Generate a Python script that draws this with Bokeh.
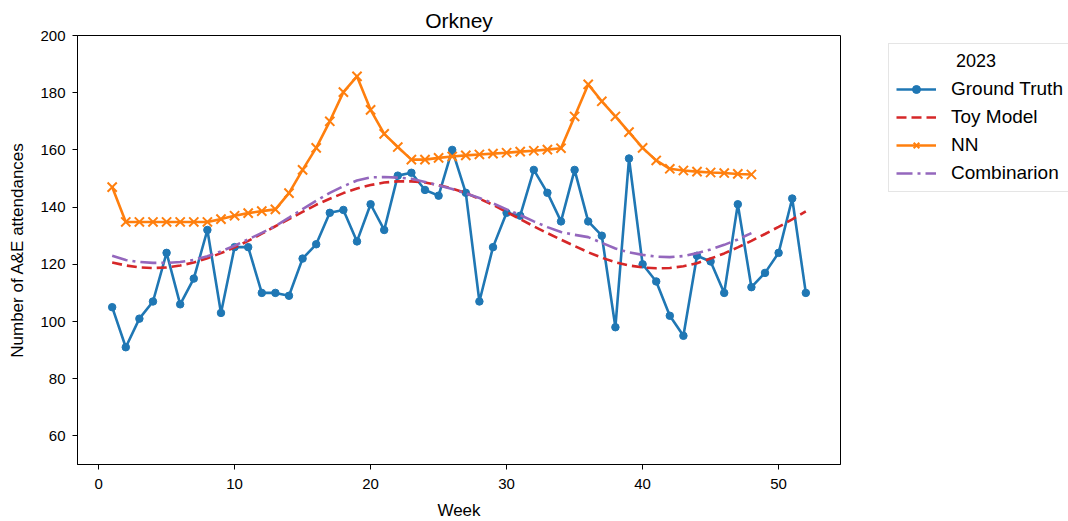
from bokeh.plotting import figure
from bokeh.models import Range1d, FixedTicker, Legend, LegendItem
from bokeh.embed import file_html
from bokeh.resources import INLINE

weeks = list(range(1, 53))
ground_truth = [105, 91, 101, 107, 124, 106, 115, 132, 103, 126, 126, 110, 110, 109, 122, 127,
                138, 139, 128, 141, 132, 151, 152, 146, 144, 160, 145, 107, 126, 138, 137, 153,
                145, 135, 153, 135, 130, 98, 157, 120, 114, 102, 95, 123, 121, 110, 141, 112,
                117, 124, 143, 110]
toy_model = [120.6, 119.6, 118.9, 118.7, 118.9, 119.6, 120.6, 122.1, 123.9, 125.9, 128.2, 130.7,
             133.3, 135.8, 138.3, 140.8, 142.9, 144.9, 146.5, 147.7, 148.6, 149.0, 149.0, 148.6,
             147.7, 146.5, 144.9, 142.9, 140.8, 138.3, 135.8, 133.3, 130.9, 128.6, 126.4, 124.2,
             122.3, 120.7, 119.6, 118.9, 118.6, 118.7, 119.3, 120.4, 122.0, 123.8, 125.9, 128.2,
             130.6, 133.1, 135.7, 138.5]
nn_weeks = list(range(1, 49))
nn = [147.0, 134.8, 134.8, 134.8, 134.8, 134.8, 134.8, 134.8, 135.8, 137.0, 137.9, 138.6,
      139.2, 144.9, 153.0, 160.7, 170.0, 180.2, 185.7, 174.0, 165.6, 161.0, 156.6, 156.6,
      157.2, 157.7, 158.1, 158.4, 158.7, 159.0, 159.4, 159.7, 160.1, 160.6, 171.7, 182.9,
      177.0, 171.7, 166.2, 160.7, 156.3, 153.4, 152.8, 152.4, 152.1, 151.9, 151.6, 151.4]
comb_weeks = list(range(1, 49))
combination = [123.0, 121.5, 120.8, 120.5, 120.5, 120.8, 121.5, 122.8, 124.5, 126.5, 128.7, 131.0,
               133.4, 136.3, 139.3, 142.2, 145.0, 147.3, 149.3, 150.4, 150.5, 150.3, 149.9, 148.8,
               147.6, 146.3, 144.8, 143.2, 141.3, 139.2, 137.2, 135.0, 133.0, 131.3, 130.3, 129.5,
               127.5, 125.5, 124.2, 123.3, 122.7, 122.5, 122.9, 123.9, 125.2, 126.8, 128.7, 130.9]

x_ticks = [0, 10, 20, 30, 40, 50]
y_ticks = [60, 80, 100, 120, 140, 160, 180, 200]

FONT = "Liberation Sans"
BLUE = "#1f77b4"
ORANGE = "#ff7f0e"
RED = "#d62728"
PURPLE = "#9467bd"

p = figure(frame_width=763, frame_height=429, output_backend="svg", toolbar_location=None,
           x_range=Range1d(-1.55, 54.55), y_range=Range1d(50, 200),
           min_border_left=77, min_border_right=228, min_border_top=35, min_border_bottom=57,
           title="Orkney", background_fill_color="white", border_fill_color="white")

p.title.align = "center"
p.title.text_font = FONT
p.title.text_font_size = "21px"
p.title.text_font_style = "normal"
p.title.text_color = "black"
p.title.standoff = 8

p.xgrid.visible = False
p.ygrid.visible = False
p.outline_line_color = "black"
p.outline_line_alpha = 1
p.outline_line_width = 1

for ax in (p.xaxis[0], p.yaxis[0]):
    ax.major_label_text_font = FONT
    ax.major_label_text_font_size = "15px"
    ax.major_label_text_color = "black"
    ax.axis_label_text_font = FONT
    ax.axis_label_text_font_size = "17px"
    ax.axis_label_text_font_style = "normal"
    ax.axis_label_text_color = "black"
    ax.major_tick_out = 5
    ax.major_tick_in = 0
    ax.minor_tick_out = 0
    ax.minor_tick_in = 0
    ax.axis_line_color = "black"
    ax.major_tick_line_color = "black"

p.xaxis.ticker = FixedTicker(ticks=x_ticks)
p.yaxis.ticker = FixedTicker(ticks=y_ticks)
p.xaxis.axis_label = "Week"
p.yaxis.axis_label = "Number of A&E attendances"
p.xaxis.major_label_standoff = 9
p.yaxis.major_label_standoff = 7
p.xaxis.axis_label_standoff = 9
p.yaxis.axis_label_standoff = 10

LW = 2.6
gt_line = p.line(weeks, ground_truth, line_color=BLUE, line_width=LW)
gt_pts = p.scatter(weeks, ground_truth, marker="circle", size=7.5, fill_color=BLUE, line_color=BLUE)
toy_line = p.line(weeks, toy_model, line_color=RED, line_width=LW, line_dash="10 5")
nn_line = p.line(nn_weeks, nn, line_color=ORANGE, line_width=LW)
nn_pts = p.scatter(nn_weeks, nn, marker="x", size=13, line_color=ORANGE, line_width=2)
comb_line = p.line(comb_weeks, combination, line_color=PURPLE, line_width=LW, line_dash="16 5 3 5")

legend = Legend(items=[
    LegendItem(label="Ground Truth", renderers=[gt_line, gt_pts]),
    LegendItem(label="Toy Model", renderers=[toy_line]),
    LegendItem(label="NN", renderers=[nn_line, nn_pts]),
    LegendItem(label="Combinarion", renderers=[comb_line]),
], location=(48, 272))
legend.title = "\u00a0" * 12 + "2023"
legend.title_text_font = FONT
legend.title_text_font_size = "18px"
legend.title_text_font_style = "normal"
legend.title_text_color = "black"
legend.title_standoff = 6
legend.label_text_font = FONT
legend.label_text_font_size = "19px"
legend.label_text_color = "black"
legend.glyph_width = 40
legend.glyph_height = 20
legend.label_height = 20
legend.label_standoff = 15
legend.spacing = 6
legend.padding = 7
legend.margin = 0
legend.border_line_color = "#cccccc"
legend.border_line_width = 1
legend.background_fill_alpha = 1
p.add_layout(legend, "right")

open("out.html", "w").write(file_html(p, INLINE))
